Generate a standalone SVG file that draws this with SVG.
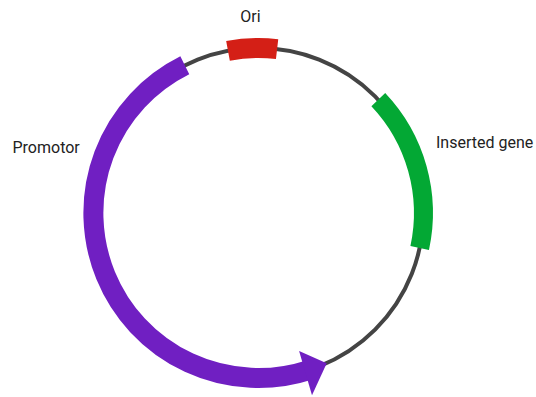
<svg xmlns="http://www.w3.org/2000/svg" width="536" height="397" viewBox="0 0 536 397">
  <style>
    .label { font-family: Roboto, "Liberation Sans", sans-serif; font-size: 16px; fill: #222; }
    .segment { fill: none; stroke-linecap: butt; }
  </style>
  <rect width="536" height="397" fill="#ffffff"/>
  <!-- plasmid backbone -->
  <g id="backbone">
    <circle cx="258.4" cy="213" r="165" fill="none" stroke="#444444" stroke-width="4"/>
  </g>
  <!-- promoter arc with arrowhead -->
  <g id="promotor">
    <path class="segment" d="M184.8,65.3 A165,165 0 0 0 309.4,369.9" stroke="#701fc2" stroke-width="20"/>
    <polygon points="299.1,351.1 326.7,363.3 312.0,395.3" fill="#701fc2"/>
    <text class="label" x="12.5" y="153">Promotor</text>
  </g>
  <!-- origin of replication -->
  <g id="ori">
    <path class="segment" d="M228.0,50.8 A165,165 0 0 1 277.1,49.1" stroke="#d41f16" stroke-width="20"/>
    <text class="label" x="250.5" y="22" text-anchor="middle">Ori</text>
  </g>
  <!-- inserted gene -->
  <g id="inserted-gene">
    <path class="segment" d="M378.3,99.6 A165,165 0 0 1 419.7,247.9" stroke="#03a834" stroke-width="19"/>
    <text class="label" x="436" y="148">Inserted gene</text>
  </g>
</svg>
